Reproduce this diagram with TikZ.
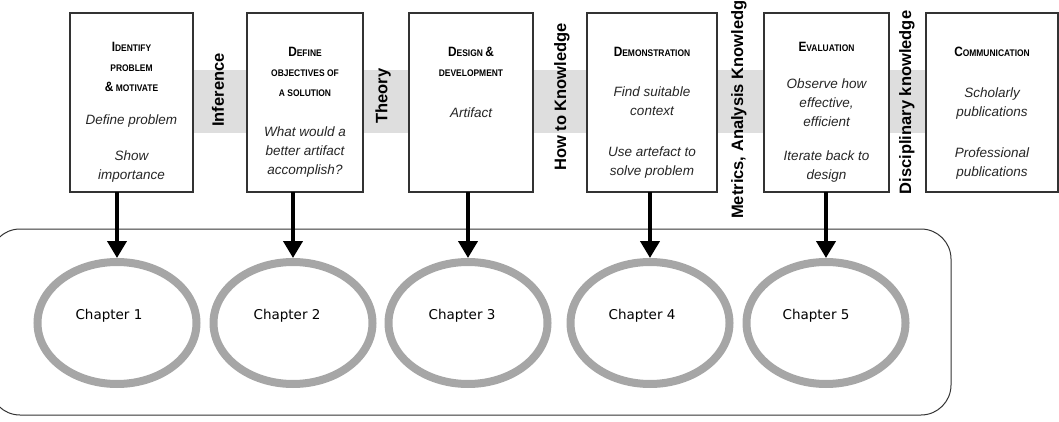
\documentclass[tikz,border=0pt]{standalone}
\usepackage{fontspec}
\setmainfont{Liberation Sans}
\newfontfamily\chapfont{DejaVu Sans}
\usetikzlibrary{arrows.meta,shapes.geometric}
\newcommand\bigS[1]{{\fontsize{13.5}{14}\selectfont #1}}
\newcommand\smS[1]{{\fontsize{9.6}{10}\selectfont #1}}
\tikzset{
  stagebox/.style={draw=black!80, line width=1.1pt, fill=white, inner sep=0pt, outer sep=0pt},
  titletext/.style={align=center, font=\bfseries\fontsize{9.6}{20}\selectfont, inner sep=0pt, xscale=0.88, transform shape},
  bodytext/.style={align=center, font=\itshape\fontsize{13.5}{19}\selectfont, inner sep=0pt, text=black!85},
  vlabel/.style={rotate=90, font=\bfseries\fontsize{16.5}{18}\selectfont, inner sep=0pt},
  chapring/.style={ellipse, draw=black!35, line width=8pt, minimum width=159pt, minimum height=122pt, inner sep=0pt},
  chaptext/.style={font=\chapfont\fontsize{13.5}{16}\selectfont, inner sep=0pt},
  downarrow/.style={line width=4pt, -{Triangle[width=19pt,length=17pt]}},
  band/.style={fill=black!13}
}
\begin{document}
\begin{tikzpicture}[x=1pt,y=-1pt]
\useasboundingbox (0,0) rectangle (1059,422);
\clip (0,0) rectangle (1059,422);

% gray band
\path[band] (193,70) rectangle (926,133);

% stage boxes
\node[stagebox, minimum width=123pt, minimum height=179pt] (b1) at (131.5,102.5) {};
\node[stagebox, minimum width=116pt, minimum height=179pt] (b2) at (305,102.5) {};
\node[stagebox, minimum width=124pt, minimum height=179pt] (b3) at (471,102.5) {};
\node[stagebox, minimum width=130pt, minimum height=179pt] (b4) at (652,102.5) {};
\node[stagebox, minimum width=125pt, minimum height=179pt] (b5) at (826.5,102.5) {};
\node[stagebox, minimum width=132pt, minimum height=179pt] (b6) at (992,102.5) {};

% box texts
\node[titletext] (t1) at (131.5,67) {\bigS{I}\smS{DENTIFY}\\ \smS{PROBLEM}\\ \bigS{\&} \smS{MOTIVATE}};
\node[bodytext] (d1a) at (131.5,121) {Define problem};
\node[bodytext] (d1b) at (131.5,166.5) {Show\\importance};

\node[titletext] (t2) at (305,72) {\bigS{D}\smS{EFINE}\\ \smS{OBJECTIVES OF}\\ \smS{A SOLUTION}};
\node[bodytext] (d2a) at (305,152.5) {What would a\\better artifact\\accomplish?};

\node[titletext] (t3) at (471,62) {\bigS{D}\smS{ESIGN} \bigS{\&}\\ \smS{DEVELOPMENT}};
\node[bodytext] (d3a) at (471,113) {Artifact};

\node[titletext] (t4) at (652,52) {\bigS{D}\smS{EMONSTRATION}};
\node[bodytext] (d4a) at (652,101) {Find suitable\\context};
\node[bodytext] (d4b) at (652,163) {Use artefact to\\solve problem};

\node[titletext] (t5) at (826.5,47) {\bigS{E}\smS{VALUATION}};
\node[bodytext] (d5a) at (826.5,102.5) {Observe how\\effective,\\efficient};
\node[bodytext] (d5b) at (826.5,167) {Iterate back to\\design};

\node[titletext] (t6) at (992,52) {\bigS{C}\smS{OMMUNICATION}};
\node[bodytext] (d6a) at (992,103.5) {Scholarly\\publications};
\node[bodytext] (d6b) at (992,163.5) {Professional\\publications};

% vertical labels
\node[vlabel] (v1) at (218,90) {Inference};
\node[vlabel] (v2) at (383,96) {Theory};
\node[vlabel] (v3) at (562,97) {How to Knowledge};
\node[vlabel, anchor=west] (v4) at (739,219) {Metrics, Analysis Knowledge};
\node[vlabel] (v5) at (907,102.5) {Disciplinary knowledge};

% frame
\node[draw=black!80, line width=1pt, rounded corners=30pt, minimum width=961pt, minimum height=186pt, inner sep=0pt] (frame) at (470.5,322) {};

% chapter rings
\node[chapring] (ch1) at (117,323) {};
\node[chapring] (ch2) at (293,323) {};
\node[chapring] (ch3) at (468,323) {};
\node[chapring] (ch4) at (650,323) {};
\node[chapring] (ch5) at (826,323) {};

\node[chaptext] (c1) at (109,316) {Chapter 1};
\node[chaptext] (c2) at (287,316) {Chapter 2};
\node[chaptext] (c3) at (462,316) {Chapter 3};
\node[chaptext] (c4) at (642,316) {Chapter 4};
\node[chaptext] (c5) at (816,316) {Chapter 5};

% arrows
\draw[downarrow] (ch1.north |- b1.south) -- (ch1.north);
\draw[downarrow] (ch2.north |- b2.south) -- (ch2.north);
\draw[downarrow] (ch3.north |- b3.south) -- (ch3.north);
\draw[downarrow] (ch4.north |- b4.south) -- (ch4.north);
\draw[downarrow] (ch5.north |- b5.south) -- (ch5.north);
\end{tikzpicture}
\end{document}
